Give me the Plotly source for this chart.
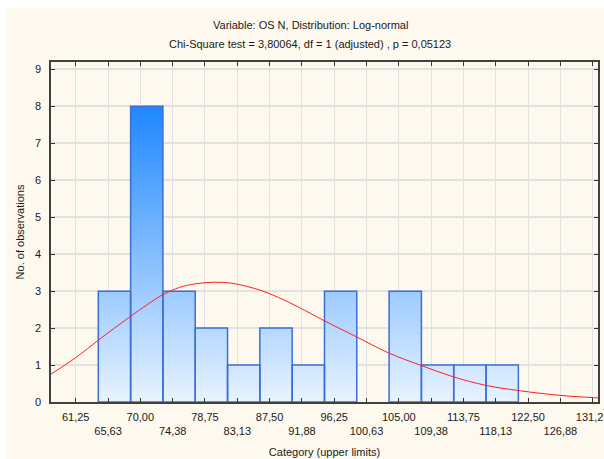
import plotly.graph_objects as go

# Histogram of OS N with fitted log-normal curve (expected counts)
bin_start = 64.31
bin_width = 4.375
counts = [3, 8, 3, 2, 1, 2, 1, 3, 0, 3, 1, 1, 1]

# Category upper-limit ticks on the x axis
tick_vals = [61.25, 65.63, 70.00, 74.38, 78.75, 83.13, 87.50, 91.88, 96.25,
             100.63, 105.00, 109.38, 113.75, 118.13, 122.50, 126.88, 131.25]
tick_labels = ["61,25", "65,63", "70,00", "74,38", "78,75", "83,13", "87,50",
               "91,88", "96,25", "100,63", "105,00", "109,38", "113,75",
               "118,13", "122,50", "126,88", "131,25"]

# Fitted log-normal expected frequencies
curve_x = [57.87, 61.25, 64.31, 66.50, 68.70, 70.90, 73.10, 75.30, 77.50,
           80.00, 82.20, 84.40, 86.60, 88.70, 91.40, 94.90, 99.30, 103.60,
           108.00, 112.40, 116.80, 121.20, 126.80, 132.00]
curve_y = [0.75, 1.20, 1.67, 2.00, 2.32, 2.63, 2.91, 3.10, 3.20,
           3.24, 3.22, 3.13, 3.00, 2.83, 2.57, 2.20, 1.76, 1.33,
           0.99, 0.68, 0.45, 0.31, 0.18, 0.11]

title_1 = "Variable: OS N, Distribution: Log-normal"
title_2 = "Chi-Square test = 3,80064, df = 1 (adjusted) , p = 0,05123"

# Build bar outlines as closed polygons so they can share one vertical gradient
bx, by = [], []
for i, c in enumerate(counts):
    if c == 0:
        continue
    left = bin_start + i * bin_width
    right = left + bin_width
    bx += [left, left, right, right, left, None]
    by += [0, c, c, 0, 0, None]

fig = go.Figure()
fig.add_trace(go.Scatter(
    x=bx, y=by, mode="lines", fill="toself",
    fillgradient=dict(type="vertical",
                      colorscale=[[0, "#E8F3FF"], [1, "#1F87FF"]],
                      start=0, stop=8),
    line=dict(color="#3A6FD8", width=1.5),
    hoverinfo="skip", showlegend=False,
))
fig.add_trace(go.Scatter(
    x=curve_x, y=curve_y, mode="lines",
    line=dict(color="#FF1F1F", width=1, shape="spline"),
    showlegend=False,
))

# Alternate tick labels onto two rows
ticktext = [t if i % 2 == 0 else "<br>" + t for i, t in enumerate(tick_labels)]

font = "Liberation Sans, Arial, sans-serif"
fig.update_layout(
    width=604, height=459,
    margin=dict(l=51, r=6, t=62, b=57),
    paper_bgcolor="white",
    plot_bgcolor="white",
    font=dict(family=font, size=11, color="#1A1A1A"),
    showlegend=False,
    shapes=[dict(type="rect", xref="paper", yref="paper",
                 x0=-0.0804, x1=1.02, y0=-0.18, y1=1.1588,
                 fillcolor="#FEF9EE", line=dict(width=0), layer="below")],
    annotations=[
        dict(text=title_1, xref="paper", yref="paper", x=0.474, y=1.1088,
             showarrow=False, xanchor="center", yanchor="middle",
             font=dict(size=11)),
        dict(text=title_2, xref="paper", yref="paper", x=0.474, y=1.0529,
             showarrow=False, xanchor="center", yanchor="middle",
             font=dict(size=11)),
    ],
)
fig.update_xaxes(
    range=[57.906, 131.97], tickmode="array", tickvals=tick_vals,
    ticktext=ticktext, ticks="inside", ticklen=4, tickcolor="#333333",
    showline=True, linecolor="#404040", linewidth=1.5, mirror="ticks",
    showgrid=True, gridcolor="#E2E2E2", gridwidth=1, zeroline=False,
    tickangle=0, ticklabelstandoff=4, ticklabeloverflow="allow",
    automargin=False,
    title=dict(text="Category (upper limits)", standoff=12,
               font=dict(size=11)),
)
fig.update_yaxes(
    range=[0, 9.2], tickmode="array", tickvals=list(range(10)),
    ticks="inside", ticklen=4, tickcolor="#333333",
    showline=True, linecolor="#404040", linewidth=1.5, mirror="ticks",
    showgrid=True, gridcolor="#E2E2E2", gridwidth=1.5, zeroline=False,
    ticklabelstandoff=6, automargin=False,
    title=dict(text="No. of observations", standoff=8, font=dict(size=11)),
)

fig.write_html("out.html")
